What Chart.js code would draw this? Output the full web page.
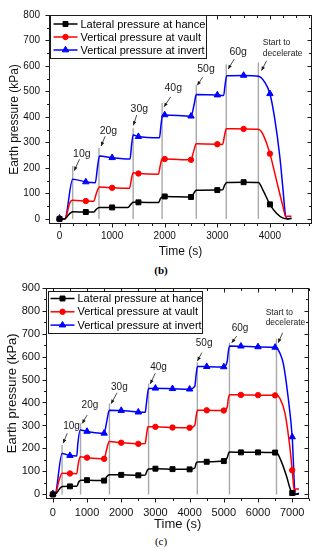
<!DOCTYPE html>
<html><head><meta charset="utf-8">
<script src="https://cdn.jsdelivr.net/npm/chart.js@4.4.1/dist/chart.umd.min.js"></script>
<style>
html,body{margin:0;padding:0;background:#fff;}
body{width:322px;height:550px;position:relative;overflow:hidden}
.box{position:absolute;left:0;width:322px}
canvas{display:block}
.cap{position:absolute;left:0;width:322px;text-align:center;font-family:"Liberation Serif","DejaVu Serif",serif;color:#000;line-height:1}
</style></head><body>
<div class="box" style="top:0;height:262px"><canvas id="chartB" width="322" height="262"></canvas></div>
<div class="cap" style="top:265px;font-size:11px;font-weight:bold">(b)</div>
<div class="box" style="top:275px;height:260px"><canvas id="chartC" width="322" height="260"></canvas></div>
<div class="cap" style="top:536px;font-size:11px">(c)</div>
<script>
const FONT = '"Liberation Sans", Arial, sans-serif';
const seriesNames = ['Lateral pressure at hance','Vertical pressure at vault','Vertical pressure at invert'];
const seriesColors = ['#000000','#ff0000','#0000ff'];
const seriesMarkers = ['rect','circle','triangle'];
const markerR = [3.5, 2.7, 3.7];
const stageLabels = ['10g','20g','30g','40g','50g','60g'];

// ---------- (b) ----------
const tB_hance = [0,100,180,250,500,650,700,760,1000,1300,1360,1400,1500,1880,1920,1960,2000,2500,2550,2600,3000,3100,3140,3180,3500,3780,3870,4000,4125,4250,4340,4410];
const pB_hance = [0,0,18,28,27,27,38,45,45,45,58,65,65,64,80,87,88,86,100,112,113,114,133,143,144,143,112,57,22,3,0,2];
const tB_vault = [0,100,200,250,500,650,700,760,1000,1330,1370,1400,1500,1880,1920,1950,2000,2500,2550,2600,3000,3100,3140,3170,3500,3780,3870,4000,4125,4250,4300,4340,4410];
const pB_vault = [0,0,65,73,70,69,100,125,122,120,160,181,178,175,215,234,235,232,265,295,293,292,330,354,353,352,331,256,151,47,9,10,10];
const tB_invert = [0,100,250,500,680,720,760,1000,1340,1370,1400,1500,1900,1930,1960,2000,2500,2560,2600,3000,3120,3150,3180,3500,3780,3900,4000,4090,4190,4250,4300,4340,4410];
const pB_invert = [3,0,156,145,142,200,247,240,235,290,329,323,318,370,408,408,403,450,488,486,484,530,562,563,560,537,491,395,241,112,9,0,3];
const grayB_t = [250,750,1400,1950,2600,3170,3780];
const grayB_top = [208,279,356,455,524,607,614];
const lblB_t = [425,930,1518,2163,2784,3397];
const lblB_p = [256,346,431,514,588,655];
const arrowB = [[380,234,279,189],[867,324,791,286],[1469,408,1404,367],[2114,479,1987,440],[2721,556,2619,524],[3321,627,3207,588],[3935,620,3841,582]];
const decelB_t = 3865, decelB_p = [691,650];
const xTicksB = [0,1000,2000,3000,4000];
const yTicksB = [0,100,200,300,400,500,600,700,800];

// ---------- (c) ----------
const tC_hance = [0,80,200,280,500,700,760,820,1000,1500,1580,1650,2000,2500,2700,2760,2800,3000,3500,4000,4150,4190,4230,4500,5000,5100,5140,5180,5500,6000,6500,6540,6640,6835,6930,7000,7100,7200];
const pC_hance = [0,2,25,34,35,35,55,62,62,60,78,86,85,83,84,105,111,112,110,109,115,135,141,142,145,160,180,184,183,183,182,182,158,79,29,6,0,3];
const tC_vault = [0,80,180,270,500,700,740,800,1000,1500,1580,1650,2000,2500,2700,2740,2780,3000,3500,4000,4150,4190,4230,4500,5000,5100,5130,5170,5500,6000,6500,6540,6640,6790,6930,7000,7070,7100,7200];
const pC_vault = [0,3,60,92,91,90,130,164,160,155,200,230,225,220,222,260,294,294,291,290,300,340,366,366,365,380,415,434,433,432,431,431,418,353,208,105,8,24,24];
const tC_invert = [0,60,270,500,700,730,800,1000,1500,1580,1650,2000,2500,2700,2740,2800,3000,3500,4000,4150,4190,4230,4500,5000,5100,5130,5170,5500,6000,6500,6540,6640,6740,6880,7000,7090,7200];
const pC_invert = [3,0,178,169,167,220,280,274,266,320,366,365,358,357,400,461,462,460,458,470,520,557,556,555,580,620,646,645,642,640,638,615,569,424,250,0,5];
const grayC_t = [270,810,1655,2800,4225,5165,6540];
const grayC_top = [215,310,396,483,575,660,677];
const lblC_t = [545,1085,1945,3091,4424,5474];
const lblC_p = [297,390,466,553,656,725];
const arrowC = [[420,266,303,223],[1003,345,857,309],[1878,442,1703,395],[2995,527,2849,481],[4357,617,4229,581],[5378,689,5232,660],[6719,703,6591,660]];
const decelC_t = 6223, decelC_p = [789,746];
const xTicksC = [0,1000,2000,3000,4000,5000,6000,7000];
const yTicksC = [0,100,200,300,400,500,600,700,800,900];

function drawMarker(ctx, style, x, y, r, color){
  ctx.fillStyle = color; ctx.strokeStyle = color; ctx.lineWidth = 1;
  ctx.beginPath();
  if (style === 'rect') { const s = r*Math.SQRT1_2; ctx.rect(x-s, y-s, 2*s, 2*s); }
  else if (style === 'circle') { ctx.arc(x, y, r, 0, Math.PI*2); }
  else {
    let rad = 0;
    ctx.moveTo(x + Math.sin(rad)*r, y - Math.cos(rad)*r);
    rad += 2*Math.PI/3; ctx.lineTo(x + Math.sin(rad)*r, y - Math.cos(rad)*r);
    rad += 2*Math.PI/3; ctx.lineTo(x + Math.sin(rad)*r, y - Math.cos(rad)*r);
    ctx.closePath();
  }
  ctx.fill(); ctx.stroke();
}
function arrow(ctx, x0, y0, x1, y1){
  ctx.beginPath(); ctx.moveTo(x0,y0); ctx.lineTo(x1,y1); ctx.stroke();
  const a = Math.atan2(y1-y0, x1-x0), L = 4, W = 1.8;
  ctx.beginPath(); ctx.moveTo(x1,y1);
  ctx.lineTo(x1 - L*Math.cos(a) + W*Math.sin(a), y1 - L*Math.sin(a) - W*Math.cos(a));
  ctx.lineTo(x1 - L*Math.cos(a) - W*Math.sin(a), y1 - L*Math.sin(a) + W*Math.cos(a));
  ctx.closePath(); ctx.fill();
}

function decoPlugin(S){
  return { id: 'deco', afterDraw(chart){
    const ctx = chart.ctx, a = chart.chartArea, xs = chart.scales.x, ys = chart.scales.y;
    const X = v => xs.getPixelForValue(v), Y = v => ys.getPixelForValue(v);
    ctx.save();
    ctx.strokeStyle = '#1a1a1a'; ctx.lineWidth = 1;
    const L = Math.round(a.left)+0.5, R = Math.round(a.right)-0.5, T = Math.round(a.top)+0.5, B = Math.round(a.bottom)-0.5;
    ctx.strokeRect(L, T, R-L, B-T);
    ctx.beginPath();
    for (let v = Math.ceil(S.xMin/S.xMinor)*S.xMinor; v <= S.xMax; v += S.xMinor) {
      const len = (v % S.xMajor === 0) ? 4 : 2.5; const p = Math.round(X(v))+0.5;
      ctx.moveTo(p, B); ctx.lineTo(p, B+len);
      ctx.moveTo(p, T); ctx.lineTo(p, T+len);
    }
    for (let v = Math.ceil(S.yMin/S.yMinor)*S.yMinor; v <= S.yMax; v += S.yMinor) {
      const len = (v % S.yMajor === 0) ? 4 : 2.5; const p = Math.round(Y(v))+0.5;
      ctx.moveTo(L, p); ctx.lineTo(L-len, p);
      ctx.moveTo(R, p); ctx.lineTo(R-len, p);
    }
    ctx.stroke();
    // stage labels
    ctx.fillStyle = '#1a1a1a'; ctx.font = S.lblFont + 'px ' + FONT; ctx.textAlign = 'center'; ctx.textBaseline = 'middle';
    stageLabels.forEach((s,i) => ctx.fillText(s, X(S.lblT[i]), Y(S.lblP[i])));
    ctx.font = S.decelFont + 'px ' + FONT; ctx.textAlign = 'left';
    ctx.fillText('Start to', X(S.decelT), Y(S.decelP[0]));
    ctx.fillText('decelerate', X(S.decelT), Y(S.decelP[1]));
    ctx.lineWidth = 0.8; ctx.strokeStyle = '#1a1a1a';
    S.arrows.forEach(r => arrow(ctx, X(r[0]), Y(r[1]), X(r[2]), Y(r[3])));
    // legend
    const lg = S.legend; const bx = Math.round(a.left + lg.x) + 0.5, by = Math.round(a.top + lg.y) + 0.5;
    ctx.fillStyle = '#fff'; ctx.fillRect(bx, by, lg.w, lg.h);
    ctx.lineWidth = 1; ctx.strokeStyle = '#1a1a1a'; ctx.strokeRect(bx, by, lg.w, lg.h);
    seriesNames.forEach((n,i) => {
      const yy = by + lg.row0 + i*lg.rowH;
      ctx.strokeStyle = seriesColors[i]; ctx.lineWidth = 1.5;
      ctx.beginPath(); ctx.moveTo(bx+lg.l0, yy); ctx.lineTo(bx+lg.l1, yy); ctx.stroke();
      drawMarker(ctx, seriesMarkers[i], bx + (lg.l0+lg.l1)/2, yy, markerR[i], seriesColors[i]);
      ctx.fillStyle = '#000'; ctx.font = lg.font + 'px ' + FONT; ctx.textAlign = 'left'; ctx.textBaseline = 'middle';
      ctx.fillText(n, bx + lg.tx, yy + 0.5);
    });
    ctx.restore();
  }};
}

function makeChart(id, S){
  const ds = [];
  S.series.forEach((s,i) => {
    ds.push({
      label: seriesNames[i],
      data: s[0].map((t,k) => ({x: t, y: s[1][k]})),
      borderColor: seriesColors[i], backgroundColor: seriesColors[i],
      borderWidth: 1.5, pointStyle: seriesMarkers[i],
      pointRadius: c => (c.raw && c.raw.x % 500 === 0) ? markerR[i] : 0,
      pointBorderWidth: 1, cubicInterpolationMode: 'monotone', order: 1
    });
  });
  const g = [];
  S.grayT.forEach((t,k) => { g.push({x: t, y: 0}, {x: t, y: S.grayTop[k]}, {x: t, y: null}); });
  ds.push({label: 'stage', data: g, borderColor: '#a9a9a9', borderWidth: 1.4, pointRadius: 0, order: 5, spanGaps: false});
  return new Chart(document.getElementById(id), {
    type: 'line',
    data: {datasets: ds},
    options: {
      responsive: false, animation: false, events: [],
      layout: {autoPadding: false, padding: {top: S.padTop, right: S.padRight, left: 0, bottom: 0}},
      plugins: {legend: {display: false}, tooltip: {enabled: false}},
      scales: {
        x: {
          type: 'linear', min: S.xMin, max: S.xMax,
          afterBuildTicks: sc => { sc.ticks = S.xTicks.map(v => ({value: v})); },
          afterFit: sc => { sc.height = S.xAxisH; },
          grid: {display: false, drawTicks: false}, border: {display: false},
          ticks: {autoSkip: false, maxRotation: 0, padding: S.tickPadX, color: '#111', font: {family: FONT, size: S.tickFont}, callback: v => String(v)},
          title: {display: true, text: 'Time (s)', color: '#111', font: {family: FONT, size: S.titleFont}, padding: {top: 0, bottom: S.xTitlePadB}}
        },
        y: {
          type: 'linear', min: S.yMin, max: S.yMax,
          afterBuildTicks: sc => { sc.ticks = S.yTicks.map(v => ({value: v})); },
          afterFit: sc => { sc.width = S.yAxisW; },
          grid: {display: false, drawTicks: false}, border: {display: false},
          ticks: {padding: S.tickPadY, color: '#111', font: {family: FONT, size: S.tickFont}, callback: v => String(v)},
          title: {display: true, text: 'Earth pressure (kPa)', color: '#111', font: {family: FONT, size: S.titleFont}, padding: {top: S.yTitlePadT, bottom: 0}}
        }
      }
    },
    plugins: [decoPlugin(S)]
  });
}

makeChart('chartB', {
  series: [[tB_hance,pB_hance],[tB_vault,pB_vault],[tB_invert,pB_invert]],
  grayT: grayB_t, grayTop: grayB_top,
  lblT: lblB_t, lblP: lblB_p, arrows: arrowB, decelT: decelB_t, decelP: decelB_p,
  xMin: -200, xMax: 4800, yMin: -20, yMax: 800, xTicks: xTicksB, yTicks: yTicksB,
  xMinor: 250, yMinor: 50, xMajor: 1000, yMajor: 100,
  padTop: 12, padRight: 10, yAxisW: 49, xAxisH: 38,
  tickFont: 10, tickPadX: 6, tickPadY: 9, titleFont: 12, xTitlePadB: 3, yTitlePadT: 7,
  lblFont: 10.5, decelFont: 8.5,
  legend: {x: 1, y: 0, w: 156, h: 43, row0: 8.5, rowH: 13, l0: 3, l1: 27, tx: 30, font: 11}
});
makeChart('chartC', {
  series: [[tC_hance,pC_hance],[tC_vault,pC_vault],[tC_invert,pC_invert]],
  grayT: grayC_t, grayTop: grayC_top,
  lblT: lblC_t, lblP: lblC_p, arrows: arrowC, decelT: decelC_t, decelP: decelC_p,
  xMin: -200, xMax: 7500, yMin: -20, yMax: 900, xTicks: xTicksC, yTicks: yTicksC,
  xMinor: 500, yMinor: 50, xMajor: 1000, yMajor: 100,
  padTop: 11, padRight: 12.7, yAxisW: 46, xAxisH: 36,
  tickFont: 11, tickPadX: 7.4, tickPadY: 6, titleFont: 13, xTitlePadB: 2.7, yTitlePadT: 4.2,
  lblFont: 10, decelFont: 8.5,
  legend: {x: 2, y: 3, w: 154, h: 42, row0: 7, rowH: 13.3, l0: 2, l1: 26, tx: 29, font: 11}
});
</script></body></html>
